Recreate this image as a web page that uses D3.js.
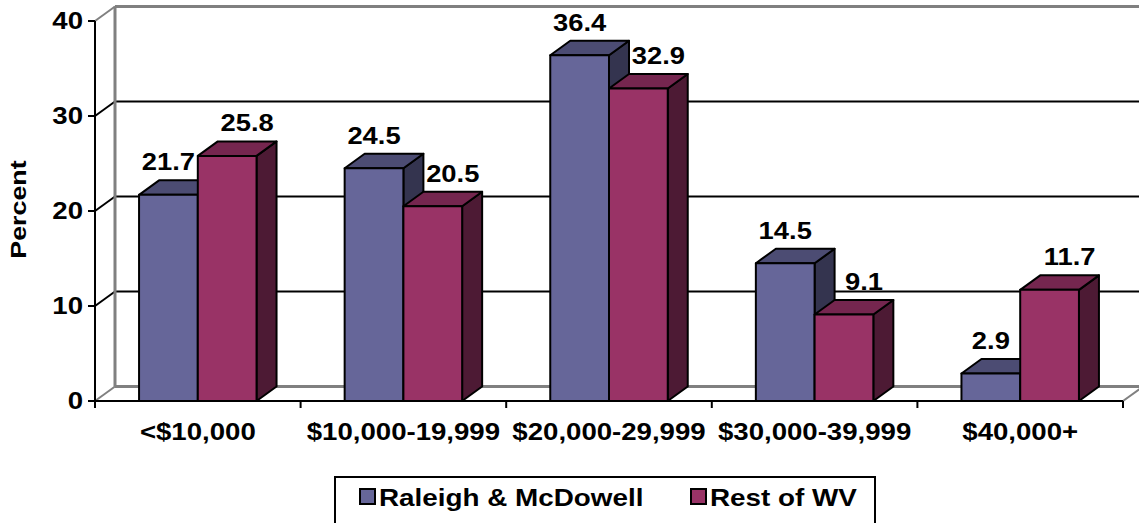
<!DOCTYPE html>
<html>
<head>
<meta charset="utf-8">
<script src="https://cdn.jsdelivr.net/npm/d3@7"></script>
<style>
  html, body { margin: 0; padding: 0; background: #ffffff; }
  svg { display: block; }
</style>
</head>
<body>
<svg id="chart" width="1139" height="523"></svg>
<script>
// ---- data ----
const categories = ["<$10,000", "$10,000-19,999", "$20,000-29,999", "$30,000-39,999", "$40,000+"];
const seriesNames = ["Raleigh & McDowell", "Rest of WV"];
const raleighMcDowell = [21.7, 24.5, 36.4, 14.5, 2.9];
const restOfWV = [25.8, 20.5, 32.9, 9.1, 11.7];
const yTickValues = [0, 10, 20, 30, 40];
const yAxisTitle = "Percent";

// ---- style / layout ----
const W = 1139, H = 523;
const plotLeft = 95, plotRight = 1123, plotBottom = 401, plotTop = 21;
const depthX = 20, depthY = -14.5;
const FONT = "'Liberation Sans', Arial, sans-serif";
const colors = [
  { front: "#666699", top: "#4c4c73", side: "#34344f" },
  { front: "#993366", top: "#75264f", side: "#4d1a34" }
];
const grey = "#808080";

const svg = d3.select("#chart");
svg.append("rect").attr("width", W).attr("height", H).attr("fill", "#fff");

const x0 = d3.scaleBand().domain(categories).range([plotLeft, plotRight]).padding(0);
const x1 = d3.scaleBand().domain(seriesNames).range([0, x0.bandwidth()]).paddingInner(0).paddingOuter(0.75);
const y = d3.scaleLinear().domain([0, 40]).range([plotBottom, plotTop]);

const rows = categories.map((c, i) => ({ cat: c, values: [raleighMcDowell[i], restOfWV[i]] }));

function txt(parent, x, yy, s, size, anchor, sx, rotate) {
  const g = parent.append("g")
    .attr("transform", `translate(${x},${yy})` + (rotate ? ` rotate(${rotate})` : "") + ` scale(${sx},1)`);
  g.append("text")
    .attr("text-anchor", anchor)
    .attr("font-family", FONT)
    .attr("font-weight", "bold")
    .attr("font-size", size)
    .attr("fill", "#000")
    .text(s);
  return g;
}

// ---- back wall gridlines ----
const back = svg.append("g");
yTickValues.forEach(v => {
  const isEdge = (v === 0 || v === 40);
  const yy = y(v);
  back.append("line")
    .attr("x1", plotLeft).attr("y1", yy)
    .attr("x2", plotLeft + depthX).attr("y2", yy + depthY)
    .attr("stroke", isEdge ? grey : "#000").attr("stroke-width", 2);
  back.append("line")
    .attr("x1", plotLeft + depthX).attr("y1", yy + depthY)
    .attr("x2", plotRight + depthX).attr("y2", yy + depthY)
    .attr("stroke", isEdge ? grey : "#000").attr("stroke-width", isEdge ? 3 : 2);
});
back.append("line")
  .attr("x1", plotLeft + depthX).attr("y1", y(0) + depthY)
  .attr("x2", plotLeft + depthX).attr("y2", y(40) + depthY)
  .attr("stroke", grey).attr("stroke-width", 3);
back.append("line")
  .attr("x1", plotRight).attr("y1", y(0))
  .attr("x2", plotRight + depthX).attr("y2", y(0) + depthY)
  .attr("stroke", grey).attr("stroke-width", 2);

// ---- bars ----
const bars = svg.append("g");
rows.forEach(r => {
  r.values.forEach((v, si) => {
    const bx = x0(r.cat) + x1(seriesNames[si]);
    const bw = x1.bandwidth();
    const top = y(v), bot = y(0);
    const c = colors[si];
    const g = bars.append("g").attr("stroke", "#000").attr("stroke-width", 2).attr("stroke-linejoin", "round");
    g.append("path").attr("fill", c.side).attr("d",
      `M${bx + bw},${bot} L${bx + bw + depthX},${bot + depthY} L${bx + bw + depthX},${top + depthY} L${bx + bw},${top} Z`);
    g.append("path").attr("fill", c.top).attr("d",
      `M${bx},${top} L${bx + depthX},${top + depthY} L${bx + bw + depthX},${top + depthY} L${bx + bw},${top} Z`);
    g.append("rect").attr("fill", c.front)
      .attr("x", bx).attr("y", top).attr("width", bw).attr("height", bot - top);
  });
});

// ---- front axes ----
const axes = svg.append("g").attr("stroke", "#000").attr("stroke-width", 2);
axes.append("line").attr("x1", plotLeft).attr("y1", y(0)).attr("x2", plotLeft).attr("y2", y(40));
axes.append("line").attr("x1", plotLeft).attr("y1", y(0)).attr("x2", plotRight).attr("y2", y(0));
yTickValues.forEach(v => {
  axes.append("line").attr("x1", plotLeft - 7).attr("y1", y(v)).attr("x2", plotLeft).attr("y2", y(v));
});
const bounds = categories.map(c => x0(c)).concat([x0(categories[categories.length - 1]) + x0.bandwidth()]);
bounds.forEach(bx => {
  axes.append("line").attr("x1", bx).attr("y1", y(0)).attr("x2", bx).attr("y2", y(0) + 7);
});

// ---- tick labels ----
const labels = svg.append("g");
yTickValues.forEach(v => txt(labels, plotLeft - 12, y(v) + 8, String(v), 23, "end", 1.2));
categories.forEach(c => txt(labels, x0(c) + x0.bandwidth() / 2, 440, c, 23, "middle", 1.2));
txt(labels, 26, 209.5, yAxisTitle, 22, "middle", 1.22, -90);

// ---- data labels ----
rows.forEach(r => {
  r.values.forEach((v, si) => {
    const bx = x0(r.cat) + x1(seriesNames[si]);
    const cx = bx + x1.bandwidth() / 2 + (si === 0 ? 0 : depthX);
    txt(labels, cx, y(v) + depthY - 10, v.toFixed(1), 24, "middle", 1.14);
  });
});

// ---- legend ----
const leg = svg.append("g");
leg.append("rect").attr("x", 335).attr("y", 477).attr("width", 540).attr("height", 60)
  .attr("fill", "#fff").attr("stroke", "#000").attr("stroke-width", 2);
const legX = [360, 691];
seriesNames.forEach((s, i) => {
  leg.append("rect").attr("x", legX[i]).attr("y", 489).attr("width", 15).attr("height", 15)
    .attr("fill", colors[i].front).attr("stroke", "#000").attr("stroke-width", 2);
  txt(leg, legX[i] + 19, 506, s, 24, "start", 1.16);
});
</script>
</body>
</html>
